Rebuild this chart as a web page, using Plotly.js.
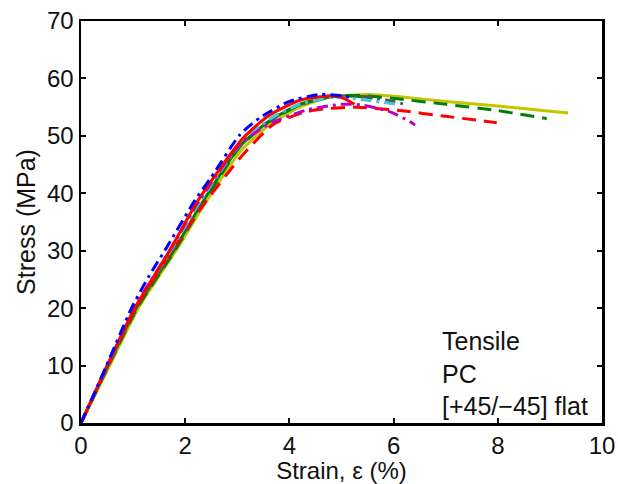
<!DOCTYPE html>
<html>
<head>
<meta charset="utf-8">
<script src="https://cdn.plot.ly/plotly-3.0.1.min.js"></script>
<style>
  html, body { margin: 0; padding: 0; background: #ffffff; }
  #chart { width: 618px; height: 484px; }
</style>
</head>
<body>
<div id="chart"></div>
<script>
// strain (%) / stress (MPa), one pair of arrays per specimen
const blueX    = [0, 0.25, 0.49, 0.97, 1.3, 1.64, 2.19, 2.5, 3.05, 3.44, 4.0, 4.59, 5.0, 5.2];
const blueY    = [0, 5, 10, 20, 25.5, 30.5, 38.8, 42.8, 50.2, 53.2, 56.0, 57.2, 57.0, 56.6];

const redX     = [0, 0.5, 1.03, 1.7, 2.25, 3.1, 3.6, 4.2, 4.8, 5.0, 5.25];
const redY     = [0, 10, 20, 30, 38.8, 49.5, 53.5, 56.2, 57.0, 56.7, 55.5];

const greenX   = [0, 0.52, 1.06, 1.78, 2.3, 3.05, 3.6, 4.2, 4.8, 5.3, 5.6];
const greenY   = [0, 10, 20, 30, 38, 48.2, 52.5, 55.5, 56.8, 56.9, 56.6];

const blackX   = [0, 0.51, 1.04, 1.74, 2.28, 3.05, 3.6, 4.2, 4.8, 5.5, 6.0, 6.25];
const blackY   = [0, 10, 20, 30, 38.3, 48.4, 52.6, 55.4, 56.7, 56.8, 56.0, 55.4];

const cyanX    = [0, 0.5, 1.02, 1.72, 2.28, 3.05, 3.6, 4.2, 4.8, 5.5, 6.12];
const cyanY    = [0, 10, 20, 30, 38.5, 48.5, 52.8, 55.5, 56.7, 56.2, 55.4];

const magentaX = [0, 0.5, 1.02, 1.7, 2.25, 3.05, 3.6, 4.33, 5.0, 5.36, 5.9, 6.31, 6.41];
const magentaY = [0, 10, 20, 30, 38.5, 48.5, 52.0, 54.5, 55.5, 55.4, 54.3, 52.5, 51.9];

const yellowX  = [0, 0.55, 1.1, 1.82, 2.33, 3.05, 3.6, 4.2, 4.8, 5.5, 6.12, 7.0, 8.0, 9.0, 9.35];
const yellowY  = [0, 10, 20, 30, 37.5, 47.2, 51.8, 55.0, 56.8, 57.2, 56.8, 56.0, 55.2, 54.3, 54.0];

const redDashX = [0, 0.52, 1.05, 1.75, 2.35, 3.05, 3.69, 4.33, 4.78, 5.3, 6.12, 7.0, 7.98];
const redDashY = [0, 10, 20, 30, 38, 46.1, 52.0, 54.2, 54.8, 55.0, 54.4, 53.4, 52.3];

const grnDashX = [0, 0.53, 1.08, 1.8, 2.32, 3.05, 3.6, 4.2, 4.8, 5.4, 6.12, 7.0, 8.0, 8.94];
const grnDashY = [0, 10, 20, 30, 37.8, 48.1, 52.4, 55.4, 56.8, 57.0, 56.4, 55.5, 54.4, 53.0];

const xTicks = [0, 2, 4, 6, 8, 10];
const yTicks = [0, 10, 20, 30, 40, 50, 60, 70];
const noteLines = ['Tensile', 'PC', '[+45/\u221245] flat'];

const DASH = '14px,8px';
const DASHDOT = '11px,5px,3px,5px';
const FONT = 'Liberation Sans, Arial, sans-serif';
const INK = '#111111';

function curve(x, y, color, dash) {
    return {
        x: x,
        y: y,
        type: 'scatter',
        mode: 'lines',
        line: { color: color, width: 3, dash: dash, shape: 'spline', smoothing: 0.6 },
        hoverinfo: 'skip'
    };
}

const traces = [
    curve(yellowX, yellowY, '#c4c400', 'solid'),
    curve(greenX, greenY, '#008000', 'solid'),
    curve(grnDashX, grnDashY, '#008000', DASH),
    curve(redDashX, redDashY, '#ff0000', DASH),
    curve(blackX, blackY, '#555555', DASHDOT),
    curve(cyanX, cyanY, '#40c8d8', DASHDOT),
    curve(magentaX, magentaY, '#c000c0', DASHDOT),
    curve(redX, redY, '#ff0000', 'solid'),
    curve(blueX, blueY, '#0000ff', DASHDOT)
];

const axisBase = {
    showline: true,
    linecolor: '#000000',
    linewidth: 2.5,
    mirror: 'ticks',
    ticks: 'inside',
    ticklen: 5,
    tickwidth: 2,
    tickcolor: '#000000',
    showgrid: false,
    zeroline: false,
    tickfont: { family: FONT, size: 24, color: INK }
};

const layout = {
    width: 618,
    height: 484,
    margin: { l: 81, r: 16, t: 21, b: 61 },
    paper_bgcolor: '#ffffff',
    plot_bgcolor: '#ffffff',
    showlegend: false,
    font: { family: FONT, size: 24, color: INK },
    xaxis: {
        ...axisBase,
        range: [0, 10],
        tickvals: xTicks,
        ticktext: xTicks.map(String),
        title: { text: 'Strain, \u03b5 (%)', font: { size: 24, color: INK }, standoff: 3 }
    },
    yaxis: {
        ...axisBase,
        range: [0, 70],
        tickvals: yTicks,
        ticktext: yTicks.map(String),
        title: { text: 'Stress (MPa)', font: { size: 25, color: INK }, standoff: 4 }
    },
    annotations: [{
        xref: 'x',
        yref: 'y',
        x: 6.9,
        y: 8.7,
        xanchor: 'left',
        yanchor: 'middle',
        align: 'left',
        showarrow: false,
        text: noteLines.join('<br>'),
        font: { size: 25, color: INK }
    }]
};

Plotly.newPlot('chart', traces, layout, { displayModeBar: false, staticPlot: true });
</script>
</body>
</html>
